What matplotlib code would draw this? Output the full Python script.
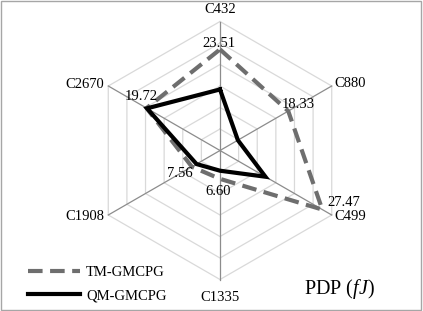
import numpy as np
import matplotlib
matplotlib.use("Agg")
import matplotlib.pyplot as plt
from matplotlib.patches import Rectangle

plt.rcParams["font.family"] = ["Liberation Serif", "DejaVu Serif"]
plt.rcParams["mathtext.fontset"] = "custom"
plt.rcParams["mathtext.rm"] = "Liberation Serif"
plt.rcParams["mathtext.it"] = "Liberation Serif:italic"

# ---------------------------------------------------------------------
# Data (PDP in fJ per benchmark circuit)
# ---------------------------------------------------------------------
circuits = ["C432", "C880", "C499", "C1335", "C1908", "C2670"]
tm_gmcpg = [23.51, 18.33, 27.47, 6.60, 7.56, 19.72]
qm_gmcpg = [14.2, 4.8, 12.2, 4.7, 6.3, 19.6]
ring_levels = [5, 10, 15, 20, 25, 30]
r_max = 30

# clockwise from top
angles = np.deg2rad(90 - 60 * np.arange(len(circuits)))


def to_xy(vals):
    vals = np.asarray(vals, dtype=float)
    return vals * np.cos(angles), vals * np.sin(angles)


# figure: 423x311 px, radar centred at (220, 150.5) px, 129 px for r_max
W, H = 423, 311
cx, cy, rad_px = 220, 150.5, 129
s = rad_px / r_max

fig = plt.figure(figsize=(W / 100, H / 100), dpi=100)
ax = fig.add_axes([0, 0, 1, 1])
ax.set_xlim(-cx / s, (W - cx) / s)
ax.set_ylim(-(H - cy) / s, cy / s)
ax.axis("off")

# grid rings + spokes
for lev in ring_levels:
    gx, gy = to_xy([lev] * len(circuits))
    ax.plot(np.append(gx, gx[0]), np.append(gy, gy[0]), color="#d9d9d9", lw=0.9, zorder=1)
ox, oy = to_xy([r_max] * len(circuits))
for x1, y1 in zip(ox, oy):
    ax.plot([0, x1], [0, y1], color="#8c8c8c", lw=0.9, zorder=1)

# series
tx, ty = to_xy(tm_gmcpg)
qx, qy = to_xy(qm_gmcpg)
ax.plot(np.append(tx, tx[0]), np.append(ty, ty[0]), color="#6e6e6e", lw=3,
        dashes=(3.5, 1.8), label="TM-GMCPG", zorder=3)
ax.plot(np.append(qx, qx[0]), np.append(qy, qy[0]), color="black", lw=3,
        label="QM-GMCPG", zorder=4, solid_joinstyle="miter")

# data labels (TM values)
lab_off = [(-1, 6), (10, 7), (21, 7), (-2, -13), (-12, -7), (-5, 12)]
for x, y, v, off in zip(tx, ty, tm_gmcpg, lab_off):
    ax.annotate(f"{v:.2f}", (x, y), xytext=off, textcoords="offset pixels",
                ha="center", va="center", fontsize=10.5, zorder=5)

# category labels
cat_off = [(0, 12), (3, 3), (3, -2), (0, -18), (-4, -2), (-4, 1)]
cat_ha = ["center", "left", "left", "center", "right", "right"]
for x, y, name, off, ha in zip(ox, oy, circuits, cat_off, cat_ha):
    ax.annotate(name, (x, y), xytext=off, textcoords="offset pixels",
                ha=ha, va="center", fontsize=10.5)

ax.text(339 / s - cx / s, -(289 - cy) / s, "PDP ($fJ$)", fontsize=14.5,
        ha="center", va="center")

ax.legend(loc="lower left", bbox_to_anchor=(22 / W, 3 / H), frameon=False,
          fontsize=10.5, handlelength=3.6, handletextpad=0.4, labelspacing=0.7,
          borderaxespad=0)

fig.patches.append(Rectangle((0.5 / W, 1.5 / H), (W - 2.5) / W, (H - 2.5) / H,
                             transform=fig.transFigure, fill=False,
                             edgecolor="#a6a6a6", lw=1))

fig.savefig("out.png", dpi=100)
